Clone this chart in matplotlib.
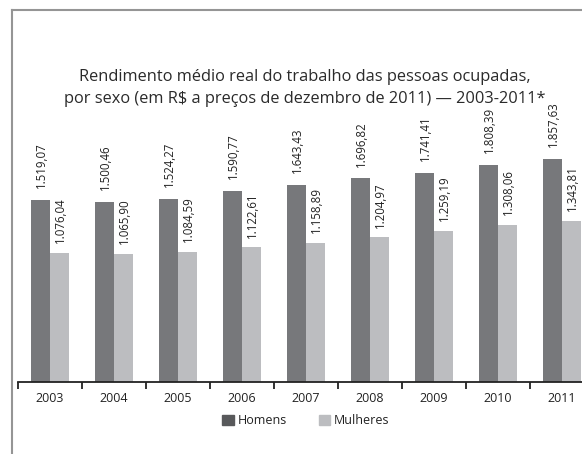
import matplotlib
matplotlib.use('Agg')
import matplotlib.pyplot as plt
import numpy as np
from matplotlib.patches import Patch
from matplotlib.lines import Line2D

# Rendimento médio real por sexo, 2003-2011
anos = ['2003', '2004', '2005', '2006', '2007', '2008', '2009', '2010', '2011']
homens = [1519.07, 1500.46, 1524.27, 1590.77, 1643.43, 1696.82, 1741.41, 1808.39, 1857.63]
mulheres = [1076.04, 1065.90, 1084.59, 1122.61, 1158.89, 1204.97, 1259.19, 1308.06, 1343.81]

plt.rcParams['font.family'] = ['Open Sans', 'DejaVu Sans']

cor_h = '#77787b'
cor_m = '#bcbdc0'


def fmt(v):
    # formato brasileiro: 1.519,07
    s = '{:,.2f}'.format(v)
    return s.replace(',', 'X').replace('.', ',').replace('X', '.')


W, H = 582, 454
fig = plt.figure(figsize=(W / 100, H / 100), dpi=100)

# eixo mais largo que a figura: o último grupo fica cortado à direita
ax = fig.add_axes([18 / W, 72 / H, 576 / W, 282 / H])
x = np.arange(len(anos))
w = 0.297
ax.bar(x - w / 2, homens, w, color=cor_h)
ax.bar(x + w / 2, mulheres, w, color=cor_m)

for i in range(len(anos)):
    ax.annotate(fmt(homens[i]), (x[i] - w / 2, homens[i]), xytext=(1, 8.5),
                textcoords='offset points', rotation=90, ha='center', va='bottom',
                fontsize=8.3, color='#222222')
    ax.annotate(fmt(mulheres[i]), (x[i] + w / 2, mulheres[i]), xytext=(1, 7),
                textcoords='offset points', rotation=90, ha='center', va='bottom',
                fontsize=8.3, color='#222222')

ax.set_xlim(-0.5, len(anos) - 0.5)
ax.set_ylim(0, 2350)
for s in ['top', 'right', 'left']:
    ax.spines[s].set_visible(False)
ax.spines['bottom'].set_linewidth(1.3)
ax.spines['bottom'].set_color('#222222')
ax.set_yticks([])
ax.set_xticks(np.arange(-0.5, len(anos)), labels=[])
ax.set_xticks(x, labels=anos, minor=True)
ax.tick_params(axis='x', which='major', direction='out', length=5, width=1.3, color='#222222')
ax.tick_params(axis='x', which='minor', length=0, pad=7, labelsize=9, labelcolor='#222222')

fig.text(305 / W, 1 - 88 / H,
         'Rendimento médio real do trabalho das pessoas ocupadas,\n'
         'por sexo (em R$ a preços de dezembro de 2011) — 2003-2011*',
         ha='center', va='center', fontsize=11.8, linespacing=1.55, color='#2a2a2a')

handles = [Patch(color='#58595b', label='Homens'), Patch(color=cor_m, label='Mulheres')]
fig.legend(handles=handles, loc='center', bbox_to_anchor=(306 / W, 1 - 421 / H), ncol=2,
           frameon=False, fontsize=9, handlelength=0.9, handleheight=0.9,
           handletextpad=0.3, columnspacing=2.6, labelcolor='#222222')

# moldura cinza (esquerda e topo)
fig.add_artist(Line2D([11.5 / W, 11.5 / W], [0, 1 - 10 / H], color='#959595', lw=1.5))
fig.add_artist(Line2D([11.5 / W, 1], [1 - 10 / H, 1 - 10 / H], color='#959595', lw=1.5))

fig.savefig('out.png', dpi=100)
